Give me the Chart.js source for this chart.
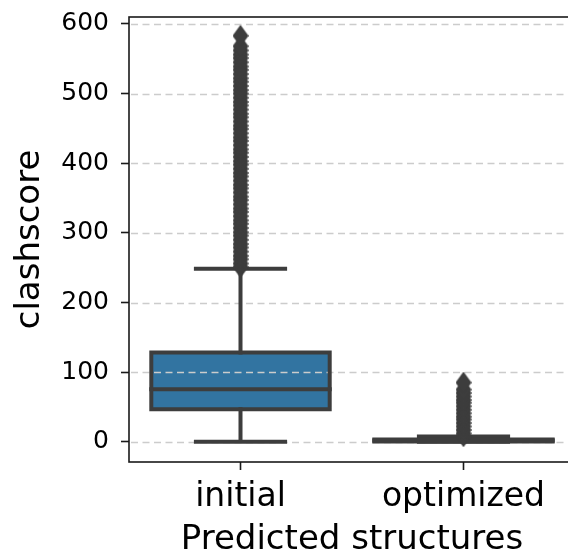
<!DOCTYPE html>
<html lang="en">
<head>
  <meta charset="UTF-8" />
  <title>clashscore boxplot</title>
  <script src="https://cdn.jsdelivr.net/npm/chart.js"></script>
  <style>
    html, body {
      margin: 0;
      padding: 0;
      background-color: #ffffff;
      overflow: hidden;
    }

    .frame {
      width: 568px;
      height: 556px;
      overflow: hidden;
    }

    canvas {
      display: block;
    }
  </style>
</head>
<body>
  <!-- the right spine sits just past the picture's edge, so the canvas is a bit wider and clipped -->
  <div class="frame">
    <canvas id="boxChart" width="575" height="556"></canvas>
  </div>

  <script>
    // box statistics, one entry per category
    const categories = ['initial', 'optimized'];
    const q1 = [46.6, 0.6];
    const median = [75.3, 1.8];
    const q3 = [128.4, 3.3];
    const whiskerLow = [0, 0];
    const whiskerHigh = [248.6, 7.6];

    // fliers (the dense columns above the whiskers)
    const initialOutliers = [251, 256, 262, 267, 273, 279, 284, 290, 296, 301, 307, 313, 318, 324,
      330, 335, 341, 347, 352, 358, 364, 369, 375, 381, 386, 392, 398, 403, 409, 415, 420, 426, 432,
      437, 443, 449, 454, 460, 466, 471, 477, 483, 488, 494, 500, 505, 511, 517, 522, 528, 534, 539,
      545, 551, 556, 562, 568, 583];
    const optimizedOutliers = [8, 12, 17, 22, 27, 32, 36, 41, 46, 51, 56, 60, 65, 70, 75, 85];

    const yTicks = [0, 100, 200, 300, 400, 500, 600];

    const boxHalf = 0.4;
    const capHalf = 0.2;
    const lineGray = '#3d3d3d';
    const textColor = '#000000';
    const font = 'DejaVu Sans';

    // turn [x0, y0, x1, y1] pieces into one broken line
    function segments(list) {
      const pts = [];
      list.forEach(([x0, y0, x1, y1]) => {
        pts.push({ x: x0, y: y0 }, { x: x1, y: y1 }, { x: x1, y: null });
      });
      return pts;
    }

    // box outlines as closed paths (first edge repeated so the first corner is mitred too)
    const outlinePts = [];
    categories.forEach((c, i) => {
      outlinePts.push(
        { x: i - boxHalf, y: q1[i] }, { x: i + boxHalf, y: q1[i] },
        { x: i + boxHalf, y: q3[i] }, { x: i - boxHalf, y: q3[i] },
        { x: i - boxHalf, y: q1[i] }, { x: i + boxHalf, y: q1[i] },
        { x: i, y: null }
      );
    });

    // medians, whiskers and caps
    const pieces = [];
    categories.forEach((c, i) => {
      pieces.push([i - boxHalf, median[i], i + boxHalf, median[i]]);
      pieces.push([i, q1[i], i, whiskerLow[i]]);
      pieces.push([i, q3[i], i, whiskerHigh[i]]);
      pieces.push([i - capHalf, whiskerLow[i], i + capHalf, whiskerLow[i]]);
      pieces.push([i - capHalf, whiskerHigh[i], i + capHalf, whiskerHigh[i]]);
    });

    const fliers = [
      ...initialOutliers.map(v => ({ x: 0, y: v })),
      ...optimizedOutliers.map(v => ({ x: 1, y: v }))
    ];

    // thin diamond like matplotlib's 'd'
    function diamond(w, h, color) {
      const c = document.createElement('canvas');
      c.width = w;
      c.height = h;
      const g = c.getContext('2d');
      g.fillStyle = color;
      g.beginPath();
      g.moveTo(w / 2, 0);
      g.lineTo(w, h / 2);
      g.lineTo(w / 2, h);
      g.lineTo(0, h / 2);
      g.closePath();
      g.fill();
      return c;
    }

    // grid goes over the box fill but under the lines, like matplotlib's axisbelow='line'
    const gridAndSpines = {
      id: 'gridAndSpines',
      afterDatasetDraw(chart, args) {
        if (args.meta.type !== 'bar') return;
        const { ctx, chartArea, scales } = chart;
        ctx.save();
        ctx.beginPath();
        ctx.rect(chartArea.left, chartArea.top, chartArea.width, chartArea.height);
        ctx.clip();
        ctx.strokeStyle = '#cccccc';
        ctx.lineWidth = 1.5;
        ctx.setLineDash([7, 4.5]);
        yTicks.forEach(v => {
          const py = Math.round(scales.y.getPixelForValue(v)) + 0.5;
          ctx.beginPath();
          ctx.moveTo(chartArea.left + 2, py);
          ctx.lineTo(chartArea.right, py);
          ctx.stroke();
        });
        ctx.restore();
      },
      afterDatasetsDraw(chart) {
        const { ctx, chartArea } = chart;
        ctx.save();
        ctx.strokeStyle = '#1a1a1a';
        ctx.lineWidth = 1.6;
        ctx.strokeRect(chartArea.left, chartArea.top, chartArea.width, chartArea.height);
        ctx.restore();
      }
    };

    new Chart(document.getElementById('boxChart'), {
      type: 'bar',
      data: {
        datasets: [
          {
            type: 'bar',
            data: categories.map((c, i) => ({ x: i, y: [q1[i], q3[i]] })),
            backgroundColor: ['#3274a1', '#e1812c'],
            borderWidth: 0,
            barPercentage: 0.8,
            categoryPercentage: 1.0,
            order: 3
          },
          {
            type: 'line',
            data: outlinePts,
            borderColor: lineGray,
            borderWidth: 4,
            borderJoinStyle: 'miter',
            pointRadius: 0,
            spanGaps: false,
            fill: false,
            order: 2
          },
          {
            type: 'line',
            data: segments(pieces),
            borderColor: lineGray,
            borderWidth: 4,
            borderCapStyle: 'square',
            pointRadius: 0,
            spanGaps: false,
            fill: false,
            order: 2
          },
          {
            type: 'scatter',
            data: fliers,
            pointStyle: diamond(16, 22, lineGray),
            pointRadius: 8,
            order: 1
          }
        ]
      },
      options: {
        responsive: false,
        animation: false,
        events: [],
        layout: { autoPadding: false, padding: { top: 17, left: 0, right: 0, bottom: 0 } },
        plugins: {
          legend: { display: false },
          tooltip: { enabled: false }
        },
        scales: {
          x: {
            type: 'linear',
            min: -0.5,
            max: 1.5,
            offset: false,
            afterBuildTicks: s => { s.ticks = categories.map((c, i) => ({ value: i })); },
            afterFit: s => {
              s.height = 94;
              s.paddingLeft = 0;
              s.paddingRight = 0;
            },
            grid: { drawOnChartArea: false, offset: false, tickLength: 8, tickWidth: 1.6, tickColor: '#1a1a1a' },
            border: { display: false },
            ticks: {
              callback: v => categories[v],
              autoSkip: false,
              maxRotation: 0,
              padding: 8,
              color: textColor,
              font: { family: font, size: 33 }
            },
            title: {
              display: true,
              text: 'Predicted structures',
              color: textColor,
              font: { family: font, size: 34, lineHeight: 0.9 },
              padding: { top: 0, bottom: 1 }
            }
          },
          y: {
            type: 'linear',
            min: -29,
            max: 610,
            afterBuildTicks: s => { s.ticks = yTicks.map(v => ({ value: v })); },
            afterFit: s => {
              s.width = 129;
              s.paddingTop = 0;
              s.paddingBottom = 0;
            },
            grid: { drawOnChartArea: false, tickLength: 8, tickWidth: 1.6, tickColor: '#1a1a1a' },
            border: { display: false },
            ticks: {
              padding: 12,
              color: textColor,
              font: { family: font, size: 25 }
            },
            title: {
              display: true,
              text: 'clashscore',
              color: textColor,
              font: { family: font, size: 34, lineHeight: 1.2 },
              padding: { top: 10, bottom: 0 }
            }
          }
        }
      },
      plugins: [gridAndSpines]
    });
  </script>
</body>
</html>
